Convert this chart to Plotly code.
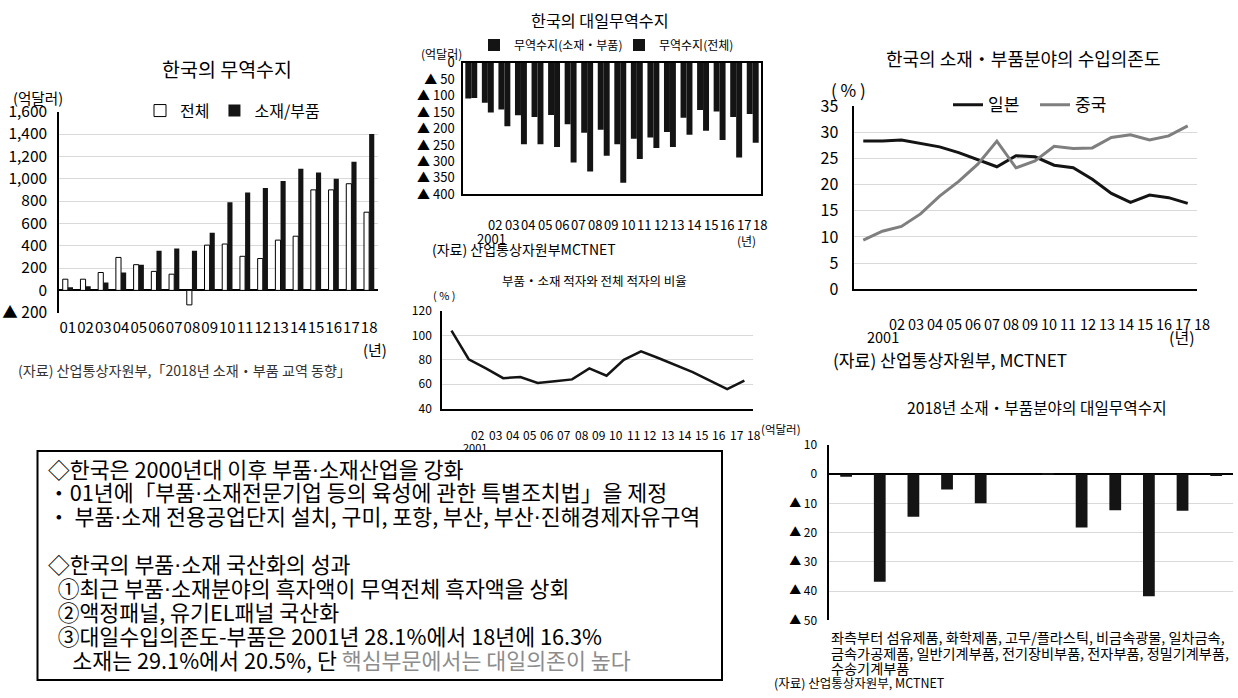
import plotly.graph_objects as go

W, H = 1238, 698
FONT = "Noto Sans CJK KR, Noto Sans, sans-serif"

# ---------------- data ----------------
YEAR_IDX = list(range(18))                        # 2001 .. 2018
YEAR_LABELS = [f"{y:02d}" for y in range(1, 19)]  # 01 .. 18

# 한국의 무역수지 (억달러)
TRADE_TOTAL = [100, 100, 160, 295, 230, 170, 145, -130, 405, 415, 305, 285, 450, 485, 900, 900, 955, 700]
TRADE_PARTS = [27, 36, 70, 160, 230, 355, 375, 355, 515, 788, 877, 917, 979, 1090, 1056, 1000, 1152, 1400]
TRADE_TICKS = [-200, 0, 200, 400, 600, 800, 1000, 1200, 1400, 1600]
TRADE_TICKTEXT = ["▲ 200", "0", "200", "400", "600", "800", "1,000", "1,200", "1,400", "1,600"]

# 한국의 대일무역수지 (억달러)
JP_PARTS = [-109, -122, -142, -160, -165, -159, -187, -213, -204, -248, -231, -227, -211, -167, -144, -148, -165, -156]
JP_TOTAL = [-107, -151, -193, -248, -248, -256, -303, -331, -283, -365, -293, -259, -256, -219, -207, -235, -288, -243]
JP_TICKS = [0, -50, -100, -150, -200, -250, -300, -350, -400]
JP_TICKTEXT = ["0", "▲ 50", "▲ 100", "▲ 150", "▲ 200", "▲ 250", "▲ 300", "▲ 350", "▲ 400"]

# 부품・소재 적자와 전체 적자의 비율 (%)
DEFICIT_RATIO = [104, 80.5, 73, 65, 66, 61, 62.5, 64, 73, 67, 80, 87, 81.5, 76, 70, 63, 56, 63]

# 소재・부품분야의 수입의존도 (%)
DEP_JAPAN = [28.3, 28.3, 28.5, 27.8, 27.2, 26.1, 24.8, 23.4, 25.5, 25.3, 23.7, 23.2, 21.0, 18.3, 16.6, 18.0, 17.5, 16.4]
DEP_CHINA = [9.4, 11.1, 12.0, 14.4, 17.8, 20.6, 23.9, 28.3, 23.2, 24.5, 27.3, 26.9, 27.0, 29.0, 29.5, 28.5, 29.3, 31.2]

# 2018년 소재・부품분야의 대일무역수지 (억달러)
SECTOR_BALANCE = [-0.9, -36.8, -14.6, -5.2, -9.9, 0.0, 0.4, -18.2, -12.3, -41.8, -12.5, -0.4]
SECTOR_TICKS = [10, 0, -10, -20, -30, -40, -50]
SECTOR_TICKTEXT = ["10", "0", "▲ 10", "▲ 20", "▲ 30", "▲ 40", "▲ 50"]

DOT = "<span style='font-family:DejaVu Sans'>·</span>"
SUMMARY_LINES = [
    f"◇한국은 2000년대 이후 부품{DOT}소재산업을 강화",
    f"・01년에「부품{DOT}소재전문기업 등의 육성에 관한 특별조치법」을 제정",
    f"・ 부품{DOT}소재 전용공업단지 설치, 구미, 포항, 부산, 부산{DOT}진해경제자유구역",
    "",
    f"◇한국의 부품{DOT}소재 국산화의 성과",
    f"  ①최근 부품{DOT}소재분야의 흑자액이 무역전체 흑자액을 상회",
    "  ②액정패널, 유기EL패널 국산화",
    "  ③대일수입의존도-부품은 2001년 28.1%에서 18년에 16.3%",
    "     소재는 29.1%에서 20.5%, 단 <span style='color:#8c8c8c'>핵심부문에서는 대일의존이 높다</span>",
]

BLACK = "#141414"
GRID = "#d9d9d9"

# layout grid: rows are laid out on a 12..686 band
BAND_TOP, BAND_SCALE = 12.0, 674.0 / 698.0

# panel frames on the grid: (left, right), (top, bottom), and x ranges
P1_X, P1_Y, P1_R = (59, 378), (110.7, 311.7), [-0.5, 17.5]
P2_X, P2_Y, P2_R = (463, 761), (61.7, 193.3), [-0.5, 17.5]
P3_X, P3_Y, P3_R = (442, 753), (310, 407.7), [-0.55, 17.5]
P4_X, P4_Y, P4_R = (854.3, 1196.7), (105, 288.3), [-0.47, 17.47]
P5_X, P5_Y, P5_R = (829.3, 1233), (444, 619.3), [-0.5, 11.5]


def row(y):
    """figure pixel row for a grid row"""
    return (y - BAND_TOP) / BAND_SCALE


def fx(px):
    return px / W


def fy(py):
    return 1 - row(py) / H


def legend_top(center_y, offset):
    return 1 - (row(center_y) - offset) / H


def xdom(px):
    return [fx(px[0]), fx(px[1])]


def ydom(py):
    return [fy(py[1]), fy(py[0])]


def x_on_axis(v, px, rng):
    """x position of value v on a linear x axis"""
    return px[0] + (v - rng[0]) / (rng[1] - rng[0]) * (px[1] - px[0])


fig = go.Figure()

# ---- panel 1: 한국의 무역수지
fig.add_trace(go.Bar(x=YEAR_IDX, y=TRADE_TOTAL, name="전체", width=0.29, offset=-0.29,
                     marker=dict(color="white", line=dict(color="black", width=1)),
                     xaxis="x", yaxis="y", legend="legend"))
fig.add_trace(go.Bar(x=YEAR_IDX, y=TRADE_PARTS, name="소재/부품", width=0.29, offset=0.0,
                     marker=dict(color=BLACK, line=dict(width=0)),
                     xaxis="x", yaxis="y", legend="legend"))

# ---- panel 2: 한국의 대일무역수지
fig.add_trace(go.Bar(x=YEAR_IDX, y=JP_PARTS, name="무역수지(소재・부품)", width=0.36, offset=-0.36,
                     marker=dict(color=BLACK, line=dict(width=0)),
                     xaxis="x2", yaxis="y2", legend="legend2"))
fig.add_trace(go.Bar(x=YEAR_IDX, y=JP_TOTAL, name="무역수지(전체)", width=0.36, offset=0.0,
                     marker=dict(color=BLACK, line=dict(width=0)),
                     xaxis="x2", yaxis="y2", legend="legend2"))

# ---- panel 3: 적자 비율
fig.add_trace(go.Scatter(x=YEAR_IDX, y=DEFICIT_RATIO, mode="lines", showlegend=False,
                         line=dict(color=BLACK, width=2.5), xaxis="x3", yaxis="y3"))

# ---- panel 4: 수입의존도
fig.add_trace(go.Scatter(x=YEAR_IDX, y=DEP_JAPAN, mode="lines", name="일본",
                         line=dict(color=BLACK, width=3), xaxis="x4", yaxis="y4", legend="legend3"))
fig.add_trace(go.Scatter(x=YEAR_IDX, y=DEP_CHINA, mode="lines", name="중국",
                         line=dict(color="#7f7f7f", width=3), xaxis="x4", yaxis="y4", legend="legend3"))

# ---- panel 5: 2018 sector balance with Japan
fig.add_trace(go.Bar(x=list(range(len(SECTOR_BALANCE))), y=SECTOR_BALANCE, width=0.35, showlegend=False,
                     marker=dict(color=BLACK, line=dict(width=0)), xaxis="x5", yaxis="y5"))

axis_common = dict(ticks="", showgrid=False, zeroline=False, fixedrange=True)

fig.update_layout(
    width=W, height=H, autosize=False,
    margin=dict(l=0, r=0, t=0, b=0, pad=0),
    paper_bgcolor="white", plot_bgcolor="rgba(0,0,0,0)",
    font=dict(family=FONT, color="black", size=13),
    barmode="overlay",
    # panel 1
    xaxis=dict(domain=xdom(P1_X), anchor="y", range=P1_R, tickvals=YEAR_IDX, ticktext=YEAR_LABELS,
               tickangle=0, tickfont=dict(size=15), ticklabelstandoff=4, showline=False, **axis_common),
    yaxis=dict(domain=ydom(P1_Y), anchor="x", range=[-200, 1600], tickvals=TRADE_TICKS,
               ticktext=TRADE_TICKTEXT, tickfont=dict(size=15.5), ticklabelstandoff=7,
               showline=True, linecolor="black", linewidth=1.5,
               **{**axis_common, "showgrid": True, "zeroline": True},
               gridcolor=GRID, gridwidth=1, zerolinecolor="black", zerolinewidth=1.5),
    # panel 2
    xaxis2=dict(domain=xdom(P2_X), anchor="y2", range=P2_R, showticklabels=False,
                showline=True, mirror=True, linecolor="black", linewidth=1.5, **axis_common),
    yaxis2=dict(domain=ydom(P2_Y), anchor="x2", range=[-400, 0], tickvals=JP_TICKS,
                ticktext=JP_TICKTEXT, tickfont=dict(size=13), ticklabelstandoff=4,
                showline=True, mirror=True, linecolor="black", linewidth=1.5, **axis_common),
    # panel 3
    xaxis3=dict(domain=xdom(P3_X), anchor="y3", range=P3_R, showticklabels=False,
                showline=True, linecolor="black", linewidth=1.5, **axis_common),
    yaxis3=dict(domain=ydom(P3_Y), anchor="x3", range=[40, 120], tickvals=[40, 60, 80, 100, 120],
                tickfont=dict(size=12), ticklabelstandoff=6, showline=True, linecolor="black", linewidth=1.5,
                **{**axis_common, "showgrid": True}, gridcolor=GRID),
    # panel 4
    xaxis4=dict(domain=xdom(P4_X), anchor="y4", range=P4_R, showticklabels=False,
                showline=True, linecolor="black", linewidth=1.5, **axis_common),
    yaxis4=dict(domain=ydom(P4_Y), anchor="x4", range=[0, 35], tickvals=[0, 5, 10, 15, 20, 25, 30, 35],
                tickfont=dict(size=16), ticklabelstandoff=11, showline=True, linecolor="black", linewidth=1.5,
                **{**axis_common, "showgrid": True}, gridcolor=GRID),
    # panel 5
    xaxis5=dict(domain=xdom(P5_X), anchor="y5", range=P5_R, showticklabels=False,
                showline=False, **axis_common),
    yaxis5=dict(domain=ydom(P5_Y), anchor="x5", range=[-50, 10], tickvals=SECTOR_TICKS,
                ticktext=SECTOR_TICKTEXT, tickfont=dict(size=12), ticklabelstandoff=8,
                showline=True, linecolor="black", linewidth=1.5,
                **{**axis_common, "showgrid": True, "zeroline": True},
                gridcolor=GRID, zerolinecolor="black", zerolinewidth=1.5),
    legend=dict(orientation="h", x=fx(140), y=legend_top(111, 19), xanchor="left", yanchor="top",
                font=dict(size=16), bgcolor="rgba(0,0,0,0)", itemwidth=30, traceorder="normal"),
    legend2=dict(orientation="h", x=fx(474), y=legend_top(42, 13), xanchor="left", yanchor="top",
                 font=dict(size=12), bgcolor="rgba(0,0,0,0)", itemwidth=30, entrywidth=100,
                 traceorder="normal"),
    legend3=dict(orientation="h", x=fx(948), y=legend_top(105, 19.5), xanchor="left", yanchor="top",
                 font=dict(size=17), bgcolor="rgba(0,0,0,0)", itemwidth=30, entrywidth=42,
                 traceorder="normal"),
)

annotations = []


def note(text, x, y, size, xanchor="center", color="black"):
    annotations.append(dict(
        text=text, x=fx(x), y=fy(y), xref="paper", yref="paper",
        xanchor=xanchor, yanchor="middle", showarrow=False,
        font=dict(size=size, color=color, family=FONT)))


# panel 1 texts
note("한국의 무역수지", 227, 68, 19.5)
note("(억달러)", 11, 97, 14.6, xanchor="left")
note("(년)", x_on_axis(17.33, P1_X, P1_R), 348, 15)
note("(자료) 산업통상자원부,「2018년 소재・부품 교역 동향」", 16, 369, 14.1, xanchor="left", color="#333333")

# panel 2 texts
note("한국의 대일무역수지", 600, 19, 16.2)
note("(억달러)", 441, 52, 12)
for k in range(1, 18):
    note(YEAR_LABELS[k], x_on_axis(k + 0.45, P2_X, P2_R), 223, 13)
note("2001", x_on_axis(1.23, P2_X, P2_R), 237, 13)
note("(년)", x_on_axis(16.65, P2_X, P2_R), 239, 12)
note("(자료) 산업통상자원부MCTNET", 430, 248, 14, xanchor="left")

# panel 3 texts
note("부품・소재 적자와 전체 적자의 비율", 594, 279, 12.5)
note("( % )", 444, 294, 11)
for k in range(1, 18):
    note(YEAR_LABELS[k], x_on_axis(k + 0.55, P3_X, P3_R), 433, 12)
note("2001", x_on_axis(1.37, P3_X, P3_R), 446, 11)

# panel 4 texts
note("한국의 소재・부품분야의 수입의존도", 1023, 57, 18)
note("( % )", 848, 88, 17)
for k in range(1, 18):
    note(YEAR_LABELS[k], x_on_axis(k + 0.75, P4_X, P4_R), 322, 14.5)
note("2001", x_on_axis(1.03, P4_X, P4_R), 336, 14.5)
note("(년)", x_on_axis(16.72, P4_X, P4_R), 336, 16)
note("(자료) 산업통상자원부, MCTNET", 831, 358, 17.2, xanchor="left")

# panel 5 texts
note("2018년 소재・부품분야의 대일무역수지", 1037, 406, 15.7)
note("(억달러)", 759, 428, 11.5, xanchor="left")
note("좌측부터 섬유제품, 화학제품, 고무/플라스틱, 비금속광물, 일차금속,", 829, 636, 14.2, xanchor="left")
note("금속가공제품, 일반기계부품, 전기장비부품, 전자부품, 정밀기계부품,", 829, 651.5, 14.2, xanchor="left")
note("수송기계부품", 829, 667, 14.2, xanchor="left")
note("(자료) 산업통상자원부, MCTNET", 772, 681, 12.5, xanchor="left")

# summary box text
for i, line in enumerate(SUMMARY_LINES):
    if line:
        note(line, 46, 467 + i * 23.9, 21.7, xanchor="left")

fig.update_layout(annotations=annotations)

fig.add_shape(type="rect", xref="paper", yref="paper",
              x0=fx(37.5), x1=fx(722), y0=fy(679), y1=fy(450),
              line=dict(color="black", width=2), fillcolor="rgba(0,0,0,0)", layer="above")

fig.write_html("out.html", config={"displayModeBar": False})
